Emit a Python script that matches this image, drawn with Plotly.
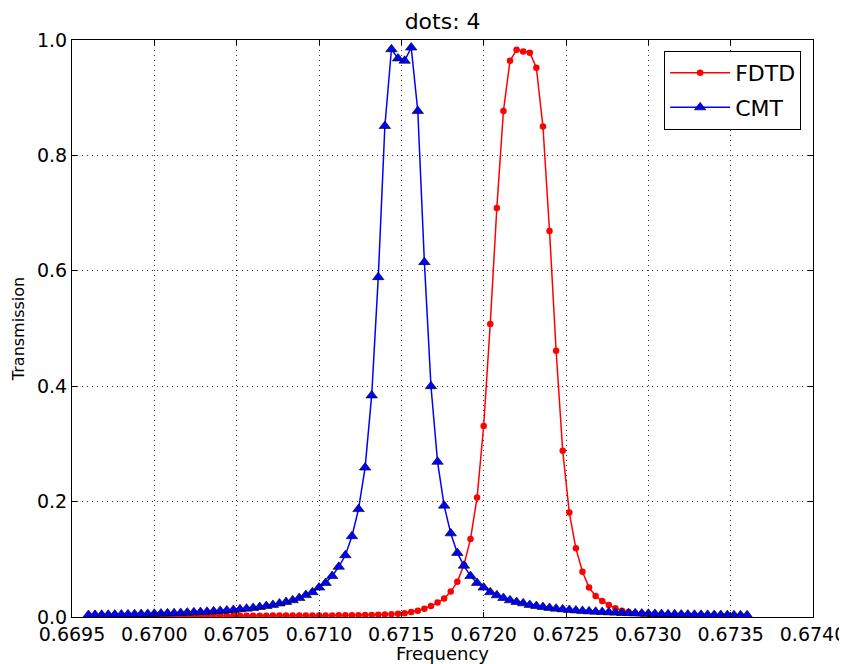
import plotly.graph_objects as go

# Frequency grid (101 samples)
freq_start = 0.6696
freq_step = 0.00004
n_points = 101
frequency = [round(freq_start + freq_step * k, 5) for k in range(n_points)]

# FDTD transmission (red dots)
fdtd = [
    0.0015, 0.0015, 0.0015, 0.0015, 0.0015, 0.0016, 0.0016, 0.0016, 0.0016, 0.0017,
    0.0017, 0.0017, 0.0018, 0.0018, 0.0018, 0.0019, 0.0019, 0.0019, 0.0020, 0.0020,
    0.0020, 0.0021, 0.0021, 0.0022, 0.0022, 0.0022, 0.0023, 0.0023, 0.0024, 0.0024,
    0.0025, 0.0025, 0.0026, 0.0026, 0.0027, 0.0027, 0.0028, 0.0028, 0.0029, 0.0030,
    0.0030, 0.0031, 0.0033, 0.0035, 0.0038, 0.0042, 0.0048, 0.0055, 0.0067, 0.0087,
    0.0110, 0.0144, 0.0190, 0.0250, 0.0320, 0.0440, 0.0610, 0.0900, 0.1350, 0.2070,
    0.3310, 0.5080, 0.7090, 0.8770, 0.9640, 0.9830, 0.9800, 0.9780, 0.9520, 0.8500,
    0.6690, 0.4615, 0.2880, 0.1810, 0.1190, 0.0785, 0.0510, 0.0364, 0.0277, 0.0210,
    0.0150, 0.0110, 0.0085, 0.0068, 0.0056, 0.0048, 0.0042, 0.0038, 0.0035, 0.0032,
    0.0030, 0.0029, 0.0028, 0.0027, 0.0026, 0.0025, 0.0024, 0.0023, 0.0022, 0.0021,
    0.0020,
]

# CMT transmission (blue triangles)
cmt = [
    0.0036, 0.0037, 0.0039, 0.0040, 0.0042, 0.0044, 0.0046, 0.0049, 0.0051, 0.0054,
    0.0057, 0.0060, 0.0063, 0.0067, 0.0071, 0.0076, 0.0081, 0.0086, 0.0092, 0.0098,
    0.0106, 0.0114, 0.0123, 0.0133, 0.0145, 0.0158, 0.0173, 0.0190, 0.0210, 0.0235,
    0.0260, 0.0290, 0.0330, 0.0380, 0.0430, 0.0510, 0.0590, 0.0710, 0.0870, 0.1070,
    0.1400, 0.1870, 0.2590, 0.3840, 0.5890, 0.8510, 0.9840, 0.9680, 0.9640, 0.9870,
    0.8770, 0.6150, 0.4000, 0.2690, 0.1930, 0.1450, 0.1110, 0.0890, 0.0710, 0.0590,
    0.0510, 0.0430, 0.0376, 0.0330, 0.0290, 0.0260, 0.0237, 0.0210, 0.0190, 0.0173,
    0.0158, 0.0145, 0.0133, 0.0123, 0.0114, 0.0106, 0.0098, 0.0092, 0.0086, 0.0081,
    0.0076, 0.0071, 0.0067, 0.0063, 0.0060, 0.0057, 0.0054, 0.0051, 0.0049, 0.0046,
    0.0044, 0.0042, 0.0040, 0.0039, 0.0037, 0.0036, 0.0034, 0.0033, 0.0032, 0.0031,
    0.0030,
]

x_ticks = [0.6695, 0.6700, 0.6705, 0.6710, 0.6715, 0.6720, 0.6725, 0.6730, 0.6735, 0.6740]
x_tick_labels = ["0.6695", "0.6700", "0.6705", "0.6710", "0.6715", "0.6720", "0.6725", "0.6730", "0.6735", "0.6740"]
y_ticks = [0.0, 0.2, 0.4, 0.6, 0.8, 1.0]
y_tick_labels = ["0.0", "0.2", "0.4", "0.6", "0.8", "1.0"]

FONT = "DejaVu Sans"

fig = go.Figure()
fig.add_trace(go.Scatter(
    x=frequency, y=fdtd, name="FDTD", mode="lines+markers", legendgroup="fdtd",
    line=dict(color="#ff0000", width=1.5),
    marker=dict(symbol="circle", size=6.5, color="#ff0000", line=dict(width=0)),
))
fig.add_trace(go.Scatter(
    x=frequency, y=cmt, name="CMT", mode="lines+markers", legendgroup="cmt",
    line=dict(color="#0000ff", width=1.5),
    marker=dict(symbol="triangle-up", size=10, color="#0000ff",
                line=dict(color="#000000", width=0.6)),
))

axis_common = dict(
    showline=True, linecolor="#000000", linewidth=1.2, mirror="ticks",
    ticks="inside", ticklen=5, tickcolor="#000000", tickwidth=1,
    showgrid=True, gridcolor="#333333", gridwidth=1, griddash="1px,4px",
    zeroline=False, automargin=False,
    tickfont=dict(family=FONT, size=19, color="#000000"),
)

fig.update_xaxes(
    range=[0.6695, 0.6740], tickvals=x_ticks, ticktext=x_tick_labels,
    title=dict(text="Frequency", font=dict(family=FONT, size=18, color="#000000"), standoff=4),
    **axis_common,
)
fig.update_yaxes(
    range=[0, 1.0], tickvals=y_ticks, ticktext=y_tick_labels,
    title=dict(text="Transmission", font=dict(family=FONT, size=16, color="#000000"), standoff=8),
    **axis_common,
)

fig.update_layout(
    width=839, height=656,
    margin=dict(l=64, r=34, t=32, b=47, autoexpand=False),
    paper_bgcolor="#ffffff", plot_bgcolor="#ffffff",
    font=dict(family=FONT, color="#000000"),
    title=dict(text="dots: 4", x=0.518, xanchor="center", y=0.979, yanchor="middle",
               font=dict(family=FONT, size=22, color="#000000")),
    legend=dict(x=0.984, y=0.981, xanchor="right", yanchor="top",
                bgcolor="#ffffff", bordercolor="#000000", borderwidth=1,
                font=dict(family=FONT, size=22, color="#000000"),
                itemwidth=60, tracegroupgap=3),
    showlegend=True,
)

fig.write_html("out.html")
